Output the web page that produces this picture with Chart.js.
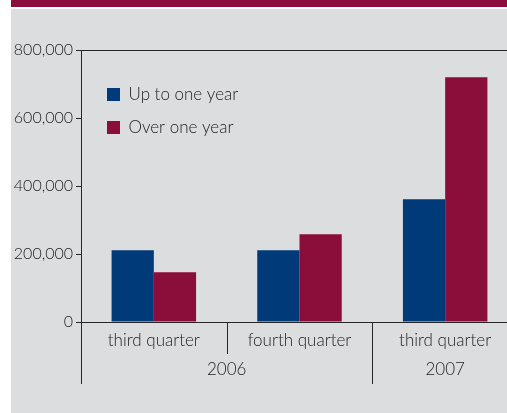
<!DOCTYPE html>
<html lang="en">
<head>
  <meta charset="UTF-8" />
  <title>Maturity breakdown</title>
  <script src="https://cdn.jsdelivr.net/npm/chart.js"></script>
  <style>
    html, body { margin: 0; padding: 0; background: #fff; overflow: hidden; width: 507px; height: 413px; }
    #header { position: absolute; left: 11px; top: 0; width: 496px; height: 7px; background: #8c0d3b; }
    #panel { position: absolute; left: 11px; top: 9px; width: 496px; height: 404px; background: #dcdddf; }
    #chart { position: absolute; left: 0; top: 0; }
  </style>
</head>
<body>
  <div id="header"></div>
  <div id="panel"></div>
  <canvas id="chart" width="520" height="413"></canvas>

  <script>
    const quarters = ['third quarter', 'fourth quarter', 'third quarter'];
    const years = ['2006', '2006', '2007'];
    const upToOneYear = [211000, 211000, 361000];
    const overOneYear = [146000, 258000, 720000];

    const ink = '#262626';
    const textColor = '#222222';

    // year row + separators under the category axis
    const yearRow = {
      id: 'yearRow',
      afterDraw(chart) {
        const x = chart.scales.x;
        const ctx = chart.ctx;
        const base = x.top;
        const edge = i => i <= 0 ? x.left : (x.getPixelForValue(i - 1) + x.getPixelForValue(i)) / 2;
        const right = x.getPixelForValue(quarters.length - 1) * 2 - edge(quarters.length - 1);
        ctx.save();
        ctx.strokeStyle = ink;
        ctx.lineWidth = 1;
        ctx.fillStyle = textColor;
        ctx.font = '300 17px Lato';
        ctx.textAlign = 'center';
        ctx.textBaseline = 'middle';
        let start = 0;
        for (let i = 1; i <= quarters.length; i++) {
          if (i < quarters.length && years[i] === years[start]) {
            const px = Math.round(edge(i)) + 0.5;
            ctx.beginPath(); ctx.moveTo(px, base); ctx.lineTo(px, base + 32); ctx.stroke();
            continue;
          }
          const l = edge(start);
          const r = i < quarters.length ? edge(i) : right;
          ctx.fillText(years[start], (l + r) / 2, base + 48);
          const px = Math.round(l) + 0.5;
          ctx.beginPath(); ctx.moveTo(px, base); ctx.lineTo(px, base + 62); ctx.stroke();
          start = i;
        }
        ctx.restore();
      }
    };

    // nudge the in-plot legend into place
    const legendNudge = {
      id: 'legendNudge',
      afterLayout(chart) {
        chart.legend.left += 10;
        chart.legend.top += 70;
      }
    };

    new Chart(document.getElementById('chart'), {
      type: 'bar',
      data: {
        labels: quarters,
        datasets: [
          { label: 'Up to one year', data: upToOneYear, backgroundColor: '#003a78' },
          { label: 'Over one year', data: overOneYear, backgroundColor: '#8b0d3a' }
        ]
      },
      options: {
        responsive: false,
        animation: false,
        devicePixelRatio: 1,
        layout: { padding: { top: 50, right: 2, left: 0, bottom: 0 } },
        datasets: { bar: { categoryPercentage: 0.58, barPercentage: 1.0 } },
        plugins: {
          legend: {
            position: 'chartArea',
            align: 'start',
            labels: {
              boxWidth: 13, boxHeight: 13, padding: 16,
              color: textColor, font: { family: 'Lato', size: 17, weight: 300 }
            }
          },
          tooltip: { enabled: false }
        },
        scales: {
          x: {
            grid: { display: false },
            border: { display: true, color: ink, width: 1 },
            ticks: { color: textColor, font: { family: 'Lato', size: 17, weight: 300 }, padding: 0, maxRotation: 0 },
            afterFit: s => { s.height = 91; }
          },
          y: {
            min: 0, max: 800000,
            grid: {
              drawOnChartArea: true,
              color: c => c.tick && c.tick.value === 800000 ? ink : 'transparent',
              tickColor: ink, tickLength: 5
            },
            border: { display: true, color: ink, width: 1 },
            ticks: { stepSize: 200000, color: textColor, font: { family: 'Lato', size: 16, weight: 300 }, padding: 3 },
            afterFit: s => { s.width = 81; }
          }
        }
      },
      plugins: [yearRow, legendNudge]
    });
  </script>
</body>
</html>
